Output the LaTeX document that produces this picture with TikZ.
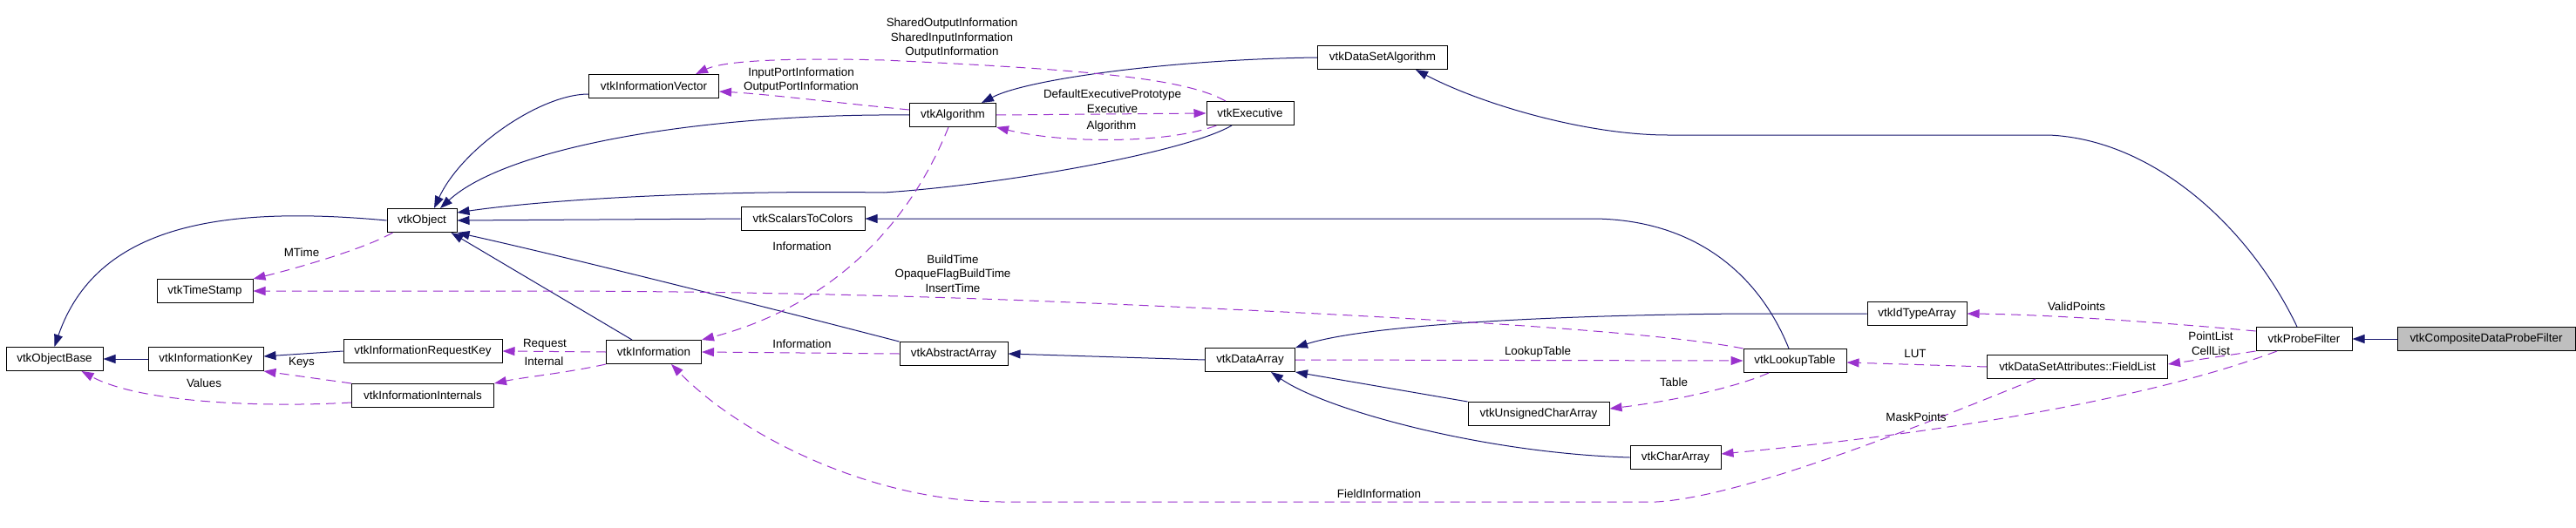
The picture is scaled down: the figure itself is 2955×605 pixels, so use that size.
\documentclass[tikz,border=0pt]{standalone}
\usepackage{fontspec}
\setmainfont{Liberation Sans}
\usepackage{xcolor}
\usepackage{tikz}
\usetikzlibrary{arrows.meta,positioning,calc}
\definecolor{inhblue}{HTML}{191970}
\definecolor{usepurple}{HTML}{9A32CD}
\definecolor{focusgray}{HTML}{BFBFBF}

\begin{document}
\begin{tikzpicture}[x=1pt, y=-1pt,
    cls/.style={draw, line width=1pt, fill=white, minimum height=27pt, inner sep=0pt, font=\fontsize{13.4}{16}\selectfont},
    lbl/.style={align=center, inner sep=0pt, font=\fontsize{13.4}{16.5}\selectfont},
    inherit/.style={-{Triangle[length=14pt,width=10pt]}, draw=inhblue, line width=1pt},
    usage/.style={-{Triangle[length=14pt,width=10pt]}, draw=usepurple, line width=1pt, dash pattern=on 11pt off 7pt}
]
    % Canvas
    \useasboundingbox (0,0) rectangle (2955,605);
    \fill[white] (0,0) rectangle (2955,605);

    % Classes
    \node[cls, minimum width=111pt] (vtkObjectBase) at (62.5,412) {vtkObjectBase};
    \node[cls, minimum width=132pt] (vtkInformationKey) at (236,412) {vtkInformationKey};
    \node[cls, minimum width=182pt] (vtkInformationRequestKey) at (485,403) {vtkInformationRequestKey};
    \node[cls, minimum width=163pt] (vtkInformationInternals) at (485,454) {vtkInformationInternals};
    \node[cls, minimum width=110pt] (vtkTimeStamp) at (235,334) {vtkTimeStamp};
    \node[cls, minimum width=80pt] (vtkObject) at (484,253) {vtkObject};
    \node[cls, minimum width=149pt] (vtkInformationVector) at (750,99) {vtkInformationVector};
    \node[cls, minimum width=99pt] (vtkAlgorithm) at (1093,132) {vtkAlgorithm};
    \node[cls, minimum width=142pt] (vtkScalarsToColors) at (921,251) {vtkScalarsToColors};
    \node[cls, minimum width=109pt] (vtkInformation) at (750,404) {vtkInformation};
    \node[cls, minimum width=124pt] (vtkAbstractArray) at (1094,406) {vtkAbstractArray};
    \node[cls, minimum width=149pt] (vtkDataSetAlgorithm) at (1586,66) {vtkDataSetAlgorithm};
    \node[cls, minimum width=100pt] (vtkExecutive) at (1434,130) {vtkExecutive};
    \node[cls, minimum width=103pt] (vtkDataArray) at (1434,413) {vtkDataArray};
    \node[cls, minimum width=162pt] (vtkUnsignedCharArray) at (1765,475) {vtkUnsignedCharArray};
    \node[cls, minimum width=114pt] (vtkIdTypeArray) at (2199,360) {vtkIdTypeArray};
    \node[cls, minimum width=118pt] (vtkLookupTable) at (2059,414) {vtkLookupTable};
    \node[cls, minimum width=207pt] (vtkFieldList) at (2383,421) {vtkDataSetAttributes::FieldList};
    \node[cls, minimum width=104pt] (vtkCharArray) at (1922,525) {vtkCharArray};
    \node[cls, minimum width=110pt] (vtkProbeFilter) at (2643,389) {vtkProbeFilter};
    \node[cls, minimum width=204pt, fill=focusgray] (vtkCompositeDataProbeFilter) at (2852,389) {vtkCompositeDataProbeFilter};

    % Inheritance
    \draw[inherit] (vtkObject.west) .. controls (250,235) and (110,260) .. (vtkObjectBase.north);
    \draw[inherit] (vtkInformationKey.west) -- (vtkObjectBase.east);
    \draw[inherit] (vtkInformationRequestKey.west) -- ([yshift=3pt]vtkInformationKey.east);
    \draw[inherit] ([yshift=-9pt]vtkInformationVector.west) .. controls (620,108) and (530,170) .. ([xshift=14pt]vtkObject.north);
    \draw[inherit] (vtkAlgorithm.west) .. controls (800,130) and (580,170) .. ([xshift=21pt]vtkObject.north);
    \draw[inherit] ([xshift=-21pt]vtkExecutive.south) .. controls (1360,175) and (1150,212) .. (1014,221) .. controls (800,218) and (620,230) .. ([yshift=9pt]vtkObject.east);
    \draw[inherit] (vtkScalarsToColors.west) -- (vtkObject.east);
    \draw[inherit] (vtkAbstractArray.north west) .. controls (850,345) and (650,295) .. (vtkObject.south east);
    \draw[inherit] ([xshift=-25pt]vtkInformation.north) -- ([xshift=-7pt]vtkObject.south east);
    \draw[inherit] (vtkDataSetAlgorithm.west) .. controls (1350,68) and (1180,90) .. ([xshift=-17pt]vtkAlgorithm.north east);
    \draw[inherit] ([xshift=-8pt]vtkProbeFilter.north) .. controls (2580,260) and (2470,160) .. (2350,155) -- (1913,155) .. controls (1820,155) and (1700,120) .. ([xshift=38pt]vtkDataSetAlgorithm.south);
    \draw[inherit] (vtkCompositeDataProbeFilter.west) -- (vtkProbeFilter.east);
    \draw[inherit] (vtkDataArray.west) -- (vtkAbstractArray.east);
    \draw[inherit] ([xshift=-7pt]vtkLookupTable.north) .. controls (2020,320) and (1950,253) .. (1830,251) -- (vtkScalarsToColors.east);
    \draw[inherit] (vtkIdTypeArray.west) -- (2000,360) .. controls (1750,362) and (1560,375) .. (vtkDataArray.north east);
    \draw[inherit] (vtkUnsignedCharArray.north west) -- (vtkDataArray.south east);
    \draw[inherit] (vtkCharArray.west) .. controls (1700,520) and (1520,470) .. ([xshift=24pt]vtkDataArray.south);

    % Usage
    \draw[usage] ([xshift=7pt]vtkObject.south west) .. controls (420,285) and (340,308) .. (vtkTimeStamp.north east);
    \node[lbl] (lMTime) at (346,290) {MTime};
    \draw[usage] (vtkLookupTable.north west) .. controls (1900,380) and (1600,362) .. (1180,345) .. controls (1000,338) and (800,334) .. (605,334) -- (vtkTimeStamp.east);
    \node[lbl] (lBuildTime) at (1093,314) {BuildTime\\OpaqueFlagBuildTime\\InsertTime};
    \draw[usage] ([yshift=6pt]vtkAlgorithm.west) .. controls (960,118) and (880,108) .. ([yshift=-6pt]vtkInformationVector.east);
    \node[lbl] (lPortInfo) at (919,92) {InputPortInformation\\OutputPortInformation};
    \draw[usage] ([xshift=-28pt]vtkExecutive.north) .. controls (1360,90) and (1250,80) .. (1014,69) .. controls (900,66) and (830,70) .. ([xshift=48pt]vtkInformationVector.north);
    \node[lbl] (lSharedInfo) at (1092,44) {SharedOutputInformation\\SharedInputInformation\\OutputInformation};
    \draw[usage] (vtkAlgorithm.east) -- (vtkExecutive.west);
    \node[lbl] (lExecutive) at (1276,116) {DefaultExecutivePrototype\\Executive};
    \draw[usage] ([xshift=12pt]vtkExecutive.south west) .. controls (1340,165) and (1220,165) .. (vtkAlgorithm.south east);
    \node[lbl] (lAlgorithm) at (1275,145) {Algorithm};
    \draw[usage] ([xshift=-5pt]vtkAlgorithm.south) .. controls (1030,290) and (920,360) .. (vtkInformation.north east);
    \node[lbl] (lInfoAlg) at (920,283) {Information};
    \draw[usage] (vtkAbstractArray.west) -- (vtkInformation.east);
    \node[lbl] (lInfoArr) at (920,395) {Information};
    \draw[usage] (vtkInformation.west) -- (vtkInformationRequestKey.east);
    \node[lbl] (lRequest) at (625,395) {Request};
    \draw[usage] (vtkInformation.south west) .. controls (650,428) and (600,433) .. (vtkInformationInternals.north east);
    \node[lbl] (lInternal) at (624,415) {Internal};
    \draw[usage] (vtkInformationInternals.north west) -- (vtkInformationKey.south east);
    \node[lbl] (lKeys) at (346,416) {Keys};
    \draw[usage] ([yshift=-8pt]vtkInformationInternals.west) .. controls (300,468) and (160,462) .. ([xshift=-25pt]vtkObjectBase.south east);
    \node[lbl] (lValues) at (234,440) {Values};
    \draw[usage] ([xshift=-48pt]vtkFieldList.south) .. controls (2200,490) and (2000,570) .. (1900,576) -- (1150,576) .. controls (1000,576) and (850,500) .. ([xshift=20pt]vtkInformation.south);
    \node[lbl] (lFieldInfo) at (1582,567) {FieldInformation};
    \draw[usage] ([xshift=-31pt]vtkProbeFilter.south) .. controls (2500,445) and (2300,490) .. ([yshift=4pt]vtkCharArray.east);
    \node[lbl] (lMask) at (2198,479) {MaskPoints};
    \draw[usage] ([yshift=9pt]vtkProbeFilter.west) .. controls (2480,370) and (2350,361) .. (vtkIdTypeArray.east);
    \node[lbl] (lValid) at (2382,352) {ValidPoints};
    \draw[usage] (vtkProbeFilter.south west) -- ([yshift=3pt]vtkFieldList.east);
    \node[lbl] (lPointList) at (2536,394) {PointList\\CellList};
    \draw[usage] (vtkFieldList.west) -- ([yshift=-2pt]vtkLookupTable.east);
    \node[lbl] (lLUT) at (2197,406) {LUT};
    \draw[usage] (vtkDataArray.east) -- (vtkLookupTable.west);
    \node[lbl] (lLookup) at (1764,404) {LookupTable};
    \draw[usage] ([xshift=-30pt]vtkLookupTable.south) .. controls (1990,445) and (1920,460) .. ([yshift=6pt]vtkUnsignedCharArray.east);
    \node[lbl] (lTable) at (1920,439) {Table};
\end{tikzpicture}
\end{document}
